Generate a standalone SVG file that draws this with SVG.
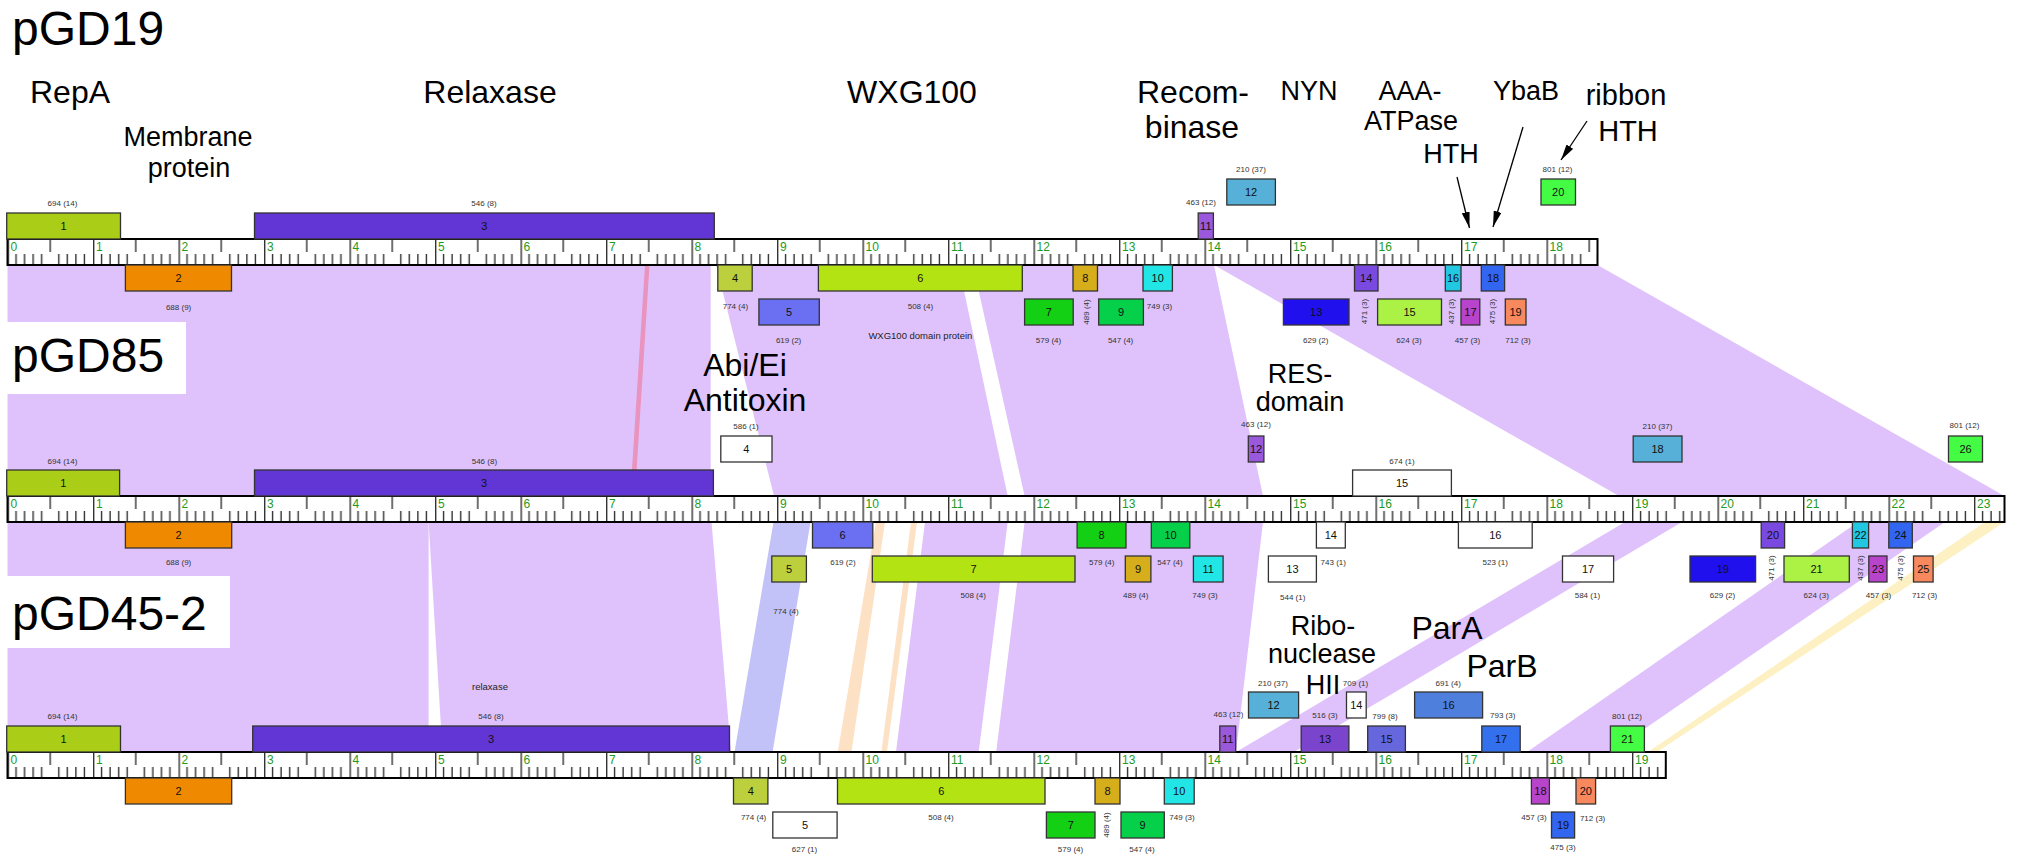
<svg xmlns="http://www.w3.org/2000/svg" width="2021" height="856" viewBox="0 0 2021 856">
<style>
.gb{stroke:#333;stroke-width:1.3}
.gt{font-family:'Liberation Sans',Arial,sans-serif;font-size:11px;text-anchor:middle;fill:#111}
.sl{font-family:'Liberation Sans',Arial,sans-serif;font-size:8px;text-anchor:middle;fill:#333}
.sm{font-family:'Liberation Sans',Arial,sans-serif;font-size:9.5px;text-anchor:middle;fill:#222}
.an{font-family:'Liberation Sans',Arial,sans-serif;text-anchor:middle;fill:#000}
.a32{font-size:32px}.a27{font-size:27px}.a29{font-size:29px}
.rn{font-family:'Liberation Sans',Arial,sans-serif;font-size:12px;fill:#1e9a1e}
.tt{font-family:'Liberation Sans',Arial,sans-serif;font-size:48px;fill:#000}
.lk{fill:#dfc2fc}
.wb{fill:#fff}
.rb{fill:url(#ticks);stroke:#000;stroke-width:2}
.ar{stroke:#000;stroke-width:1.3;fill:none;marker-end:url(#ah)}
</style>
<defs>
<pattern id="ticks" patternUnits="userSpaceOnUse" x="7.5" y="0" width="85.5" height="26">
<rect width="85.5" height="26" fill="#fff"/>
<path d="M0.7 0V26M42.75 0V13M8.55 15V26M17.1 15V26M25.65 15V26M34.2 15V26M51.3 15V26M59.85 15V26M68.4 15V26M76.95 15V26" stroke="#333" stroke-width="1.4" fill="none"/>
</pattern>
<marker id="ah" markerUnits="userSpaceOnUse" markerWidth="16" markerHeight="8" refX="16" refY="4" orient="auto" viewBox="0 0 16 8">
<path d="M0,0L16,4L0,8z" fill="#000"/>
</marker>
</defs>
<rect width="2021" height="856" fill="#fff"/>

<g id="links">
<polygon class="lk" points="7.5,265 710.7,265 710.7,496 7.5,496"/>
<polygon points="645,265 649.5,265 635,496 630.3,496" fill="#e993bf"/>
<polygon class="lk" points="716,265 958.5,265 1007.7,496 774,496"/>
<polygon class="lk" points="972.9,265 1214,265 1263,496 1024.6,496"/>
<polygon class="lk" points="1214,265 1597.5,265 2004.5,496 1619,496"/>
<polygon class="lk" points="7.5,522 428.6,522 428.6,752 7.5,752"/>
<polygon class="lk" points="428.6,522 711.5,522 731,752 442.5,752"/>
<polygon points="773.5,522 810.5,522 772.6,752 734.5,752" fill="#c2c2f9"/>
<polygon points="876,522 885,522 851.5,752 837.8,752" fill="#fde1c4"/>
<polygon points="911,522 917,522 887,752 881.4,752" fill="#fde1c4"/>
<polygon class="lk" points="925,522 1007.7,522 978.7,752 896,752"/>
<polygon class="lk" points="1024.6,522 1263,522 1236,752 996.2,752"/>
<polygon class="lk" points="1625,522 1682,522 1294,752 1236,752"/>
<polygon class="lk" points="1858,522 1945,522 1611,752 1527,752"/>
<polygon points="1985,522 2004.5,522 1657,752 1648,752" fill="#fdf0c3"/>
</g>

<g id="titles">
<text class="tt" x="12" y="45">pGD19</text>
<rect class="wb" x="0" y="322" width="186" height="72"/>
<text class="tt" x="12" y="372">pGD85</text>
<rect class="wb" x="0" y="576" width="230" height="72"/>
<text class="tt" x="12" y="630">pGD45-2</text>
</g>

<g id="annotations">
<text class="an a32" x="70" y="103">RepA</text>
<text class="an a27" x="188" y="146">Membrane</text>
<text class="an a27" x="189" y="177">protein</text>
<text class="an a32" x="490" y="103">Relaxase</text>
<text class="an a32" x="912" y="103">WXG100</text>
<text class="an a32" x="1193" y="103">Recom-</text>
<text class="an a32" x="1192" y="138">binase</text>
<text class="an a27" x="1309" y="100">NYN</text>
<text class="an a27" x="1410" y="100">AAA-</text>
<text class="an a27" x="1411" y="130">ATPase</text>
<text class="an a27" x="1451" y="163">HTH</text>
<text class="an a27" x="1526" y="100">YbaB</text>
<text class="an a29" x="1626" y="105">ribbon</text>
<text class="an a29" x="1628" y="141">HTH</text>
<text class="an a32" x="745" y="376">Abi/Ei</text>
<text class="an a32" x="745" y="411">Antitoxin</text>
<text class="an a27" x="1300" y="383">RES-</text>
<text class="an a27" x="1300" y="411">domain</text>
<text class="an a27" x="1323" y="635">Ribo-</text>
<text class="an a27" x="1322" y="663">nuclease</text>
<text class="an a27" x="1323" y="694">HII</text>
<text class="an a32" x="1447" y="639">ParA</text>
<text class="an a32" x="1502" y="677">ParB</text>
<line class="ar" x1="1457" y1="177" x2="1469.5" y2="228"/>
<line class="ar" x1="1523" y1="127" x2="1493" y2="227"/>
<line class="ar" x1="1587" y1="121" x2="1561" y2="160"/>
</g>

<g id="ruler-pGD19" transform="translate(0,239)">
<rect class="rb" x="7.5" y="0" width="1590" height="26"/>
<text class="rn" x="10.5" y="11.5">0</text><text class="rn" x="96" y="11.5">1</text><text class="rn" x="181.5" y="11.5">2</text><text class="rn" x="267" y="11.5">3</text><text class="rn" x="352.5" y="11.5">4</text><text class="rn" x="438" y="11.5">5</text><text class="rn" x="523.5" y="11.5">6</text><text class="rn" x="609" y="11.5">7</text><text class="rn" x="694.5" y="11.5">8</text><text class="rn" x="780" y="11.5">9</text><text class="rn" x="865.5" y="11.5">10</text><text class="rn" x="951" y="11.5">11</text><text class="rn" x="1036.5" y="11.5">12</text><text class="rn" x="1122" y="11.5">13</text><text class="rn" x="1207.5" y="11.5">14</text><text class="rn" x="1293" y="11.5">15</text><text class="rn" x="1378.5" y="11.5">16</text><text class="rn" x="1464" y="11.5">17</text><text class="rn" x="1549.5" y="11.5">18</text>
</g>
<g id="ruler-pGD85" transform="translate(0,496)">
<rect class="rb" x="7.5" y="0" width="1997" height="26"/>
<text class="rn" x="10.5" y="11.5">0</text><text class="rn" x="96" y="11.5">1</text><text class="rn" x="181.5" y="11.5">2</text><text class="rn" x="267" y="11.5">3</text><text class="rn" x="352.5" y="11.5">4</text><text class="rn" x="438" y="11.5">5</text><text class="rn" x="523.5" y="11.5">6</text><text class="rn" x="609" y="11.5">7</text><text class="rn" x="694.5" y="11.5">8</text><text class="rn" x="780" y="11.5">9</text><text class="rn" x="865.5" y="11.5">10</text><text class="rn" x="951" y="11.5">11</text><text class="rn" x="1036.5" y="11.5">12</text><text class="rn" x="1122" y="11.5">13</text><text class="rn" x="1207.5" y="11.5">14</text><text class="rn" x="1293" y="11.5">15</text><text class="rn" x="1378.5" y="11.5">16</text><text class="rn" x="1464" y="11.5">17</text><text class="rn" x="1549.5" y="11.5">18</text><text class="rn" x="1635" y="11.5">19</text><text class="rn" x="1720.5" y="11.5">20</text><text class="rn" x="1806" y="11.5">21</text><text class="rn" x="1891.5" y="11.5">22</text><text class="rn" x="1977" y="11.5">23</text>
</g>
<g id="ruler-pGD45-2" transform="translate(0,752)">
<rect class="rb" x="7.5" y="0" width="1658.3" height="26"/>
<text class="rn" x="10.5" y="11.5">0</text><text class="rn" x="96" y="11.5">1</text><text class="rn" x="181.5" y="11.5">2</text><text class="rn" x="267" y="11.5">3</text><text class="rn" x="352.5" y="11.5">4</text><text class="rn" x="438" y="11.5">5</text><text class="rn" x="523.5" y="11.5">6</text><text class="rn" x="609" y="11.5">7</text><text class="rn" x="694.5" y="11.5">8</text><text class="rn" x="780" y="11.5">9</text><text class="rn" x="865.5" y="11.5">10</text><text class="rn" x="951" y="11.5">11</text><text class="rn" x="1036.5" y="11.5">12</text><text class="rn" x="1122" y="11.5">13</text><text class="rn" x="1207.5" y="11.5">14</text><text class="rn" x="1293" y="11.5">15</text><text class="rn" x="1378.5" y="11.5">16</text><text class="rn" x="1464" y="11.5">17</text><text class="rn" x="1549.5" y="11.5">18</text><text class="rn" x="1635" y="11.5">19</text>
</g>

<!-- pGD19 genes -->
<g id="pGD19-1"><rect class="gb" x="6.7" y="213" width="113.8" height="26" fill="#aacd17"/><text class="gt" x="63.6" y="230">1</text><text class="sl" x="62.5" y="206">694 (14)</text></g>
<g id="pGD19-3"><rect class="gb" x="254.5" y="213" width="459.8" height="26" fill="#6236d5"/><text class="gt" x="484.4" y="230">3</text><text class="sl" x="484" y="206">546 (8)</text></g>
<g id="pGD19-11"><rect class="gb" x="1198.2" y="213" width="15.2" height="26" fill="#9a58dd"/><text class="gt" x="1205.8" y="230">11</text><text class="sl" x="1201" y="205">463 (12)</text></g>
<g id="pGD19-12"><rect class="gb" x="1226.8" y="179" width="48.6" height="26" fill="#57b0d8"/><text class="gt" x="1251.1" y="196">12</text><text class="sl" x="1251" y="172.3">210 (37)</text></g>
<g id="pGD19-20"><rect class="gb" x="1541" y="179" width="34.5" height="26" fill="#44fc44"/><text class="gt" x="1558.2" y="196">20</text><text class="sl" x="1557.5" y="172">801 (12)</text></g>
<g id="pGD19-2"><rect class="gb" x="125.4" y="265" width="106.1" height="26" fill="#ef8a00"/><text class="gt" x="178.5" y="282">2</text><text class="sl" x="178.6" y="309.7">688 (9)</text></g>
<g id="pGD19-4"><rect class="gb" x="717.8" y="265" width="34.4" height="26" fill="#bccf3c"/><text class="gt" x="735" y="282">4</text><text class="sl" x="735.4" y="308.5">774 (4)</text></g>
<g id="pGD19-6"><rect class="gb" x="818.4" y="265" width="203.9" height="26" fill="#b4e314"/><text class="gt" x="920.3" y="282">6</text><text class="sl" x="920.4" y="309">508 (4)</text><text class="sm" x="920.4" y="339">WXG100 domain protein</text></g>
<g id="pGD19-8"><rect class="gb" x="1073" y="265" width="24.5" height="26" fill="#d6ad1a"/><text class="gt" x="1085.2" y="282">8</text><text class="sl" transform="translate(1089.2,312) rotate(-90)">489 (4)</text></g>
<g id="pGD19-10"><rect class="gb" x="1143" y="265" width="29.4" height="26" fill="#22e6e6"/><text class="gt" x="1157.7" y="282">10</text><text class="sl" x="1159.5" y="308.5">749 (3)</text></g>
<g id="pGD19-14"><rect class="gb" x="1354.5" y="265" width="23.5" height="26" fill="#7a4ae0"/><text class="gt" x="1366.2" y="282">14</text><text class="sl" transform="translate(1367,311.6) rotate(-90)">471 (3)</text></g>
<g id="pGD19-16"><rect class="gb" x="1445.3" y="265" width="15.7" height="26" fill="#22c8e2"/><text class="gt" x="1453.1" y="282">16</text><text class="sl" transform="translate(1454.3,311.6) rotate(-90)">437 (3)</text></g>
<g id="pGD19-18"><rect class="gb" x="1481.3" y="265" width="23.3" height="26" fill="#3266f0"/><text class="gt" x="1493" y="282">18</text><text class="sl" transform="translate(1495,311.6) rotate(-90)">475 (3)</text></g>
<g id="pGD19-5"><rect class="gb" x="758.9" y="299" width="60.4" height="26" fill="#6b6ff2"/><text class="gt" x="789.1" y="316">5</text><text class="sl" x="788.6" y="343">619 (2)</text></g>
<g id="pGD19-7"><rect class="gb" x="1024.6" y="299" width="48.6" height="26" fill="#14d014"/><text class="gt" x="1048.9" y="316">7</text><text class="sl" x="1048.5" y="343">579 (4)</text></g>
<g id="pGD19-9"><rect class="gb" x="1098.7" y="299" width="44.7" height="26" fill="#06d04a"/><text class="gt" x="1121" y="316">9</text><text class="sl" x="1120.6" y="343">547 (4)</text></g>
<g id="pGD19-13"><rect class="gb" x="1283.4" y="299" width="65.6" height="26" fill="#2010ee"/><text class="gt" x="1316.2" y="316">13</text><text class="sl" x="1315.7" y="343">629 (2)</text></g>
<g id="pGD19-15"><rect class="gb" x="1377.6" y="299" width="63.9" height="26" fill="#acf244"/><text class="gt" x="1409.5" y="316">15</text><text class="sl" x="1409" y="343">624 (3)</text></g>
<g id="pGD19-17"><rect class="gb" x="1461" y="299" width="18.8" height="26" fill="#b844cc"/><text class="gt" x="1470.4" y="316">17</text><text class="sl" x="1467.5" y="343">457 (3)</text></g>
<g id="pGD19-19"><rect class="gb" x="1505.3" y="299" width="20.7" height="26" fill="#f8885e"/><text class="gt" x="1515.6" y="316">19</text><text class="sl" x="1518" y="343">712 (3)</text></g>

<!-- pGD85 genes -->
<g id="pGD85-4"><rect class="gb" x="720.8" y="436" width="51.2" height="26" fill="#fff"/><text class="gt" x="746.4" y="453">4</text><text class="sl" x="746" y="429">586 (1)</text></g>
<g id="pGD85-12"><rect class="gb" x="1248.3" y="436" width="15.6" height="26" fill="#9a58dd"/><text class="gt" x="1256.1" y="453">12</text><text class="sl" x="1256" y="427">463 (12)</text></g>
<g id="pGD85-18"><rect class="gb" x="1633.2" y="436" width="48.8" height="26" fill="#57b0d8"/><text class="gt" x="1657.6" y="453">18</text><text class="sl" x="1657.5" y="429">210 (37)</text></g>
<g id="pGD85-26"><rect class="gb" x="1948.5" y="436" width="34" height="26" fill="#44fc44"/><text class="gt" x="1965.5" y="453">26</text><text class="sl" x="1964.5" y="427.5">801 (12)</text></g>
<g id="pGD85-1"><rect class="gb" x="6.7" y="470" width="112.9" height="26" fill="#aacd17"/><text class="gt" x="63.2" y="487">1</text><text class="sl" x="62.5" y="463.7">694 (14)</text></g>
<g id="pGD85-3"><rect class="gb" x="254.5" y="470" width="458.9" height="26" fill="#6236d5"/><text class="gt" x="484" y="487">3</text><text class="sl" x="484.4" y="463.7">546 (8)</text></g>
<g id="pGD85-15"><rect class="gb" x="1352.6" y="470" width="98.8" height="26" fill="#fff"/><text class="gt" x="1402" y="487">15</text><text class="sl" x="1402" y="463.5">674 (1)</text></g>
<g id="pGD85-2"><rect class="gb" x="125.4" y="522" width="106.3" height="26" fill="#ef8a00"/><text class="gt" x="178.5" y="539">2</text><text class="sl" x="178.6" y="565.3">688 (9)</text></g>
<g id="pGD85-6"><rect class="gb" x="812.5" y="522" width="60.3" height="26" fill="#6b6ff2"/><text class="gt" x="842.6" y="539">6</text><text class="sl" x="842.9" y="565.3">619 (2)</text></g>
<g id="pGD85-8"><rect class="gb" x="1077.1" y="522" width="48.9" height="26" fill="#14d014"/><text class="gt" x="1101.5" y="539">8</text><text class="sl" x="1101.8" y="565.3">579 (4)</text></g>
<g id="pGD85-10"><rect class="gb" x="1151.3" y="522" width="38.5" height="26" fill="#06d04a"/><text class="gt" x="1170.5" y="539">10</text><text class="sl" x="1170" y="565.3">547 (4)</text></g>
<g id="pGD85-14"><rect class="gb" x="1316.4" y="522" width="28.9" height="26" fill="#fff"/><text class="gt" x="1330.8" y="539">14</text><text class="sl" x="1333.3" y="565.3">743 (1)</text></g>
<g id="pGD85-16"><rect class="gb" x="1458.4" y="522" width="73.8" height="26" fill="#fff"/><text class="gt" x="1495.3" y="539">16</text><text class="sl" x="1495.2" y="565.3">523 (1)</text></g>
<g id="pGD85-20"><rect class="gb" x="1761.2" y="522" width="23.4" height="26" fill="#7a4ae0"/><text class="gt" x="1772.9" y="539">20</text><text class="sl" transform="translate(1773.6,568) rotate(-90)">471 (3)</text></g>
<g id="pGD85-22"><rect class="gb" x="1852.4" y="522" width="16.2" height="26" fill="#22c8e2"/><text class="gt" x="1860.5" y="539">22</text><text class="sl" transform="translate(1862.8,568) rotate(-90)">437 (3)</text></g>
<g id="pGD85-24"><rect class="gb" x="1888.8" y="522" width="23.5" height="26" fill="#3266f0"/><text class="gt" x="1900.5" y="539">24</text><text class="sl" transform="translate(1903,568) rotate(-90)">475 (3)</text></g>
<g id="pGD85-5"><rect class="gb" x="771.8" y="556" width="34.6" height="26" fill="#bccf3c"/><text class="gt" x="789.1" y="573">5</text><text class="sl" x="786" y="614.2">774 (4)</text></g>
<g id="pGD85-7"><rect class="gb" x="872.3" y="556" width="202.7" height="26" fill="#b4e314"/><text class="gt" x="973.6" y="573">7</text><text class="sl" x="973.2" y="598.4">508 (4)</text></g>
<g id="pGD85-9"><rect class="gb" x="1125.3" y="556" width="25.6" height="26" fill="#d6ad1a"/><text class="gt" x="1138.1" y="573">9</text><text class="sl" x="1135.8" y="598.4">489 (4)</text></g>
<g id="pGD85-11"><rect class="gb" x="1193.4" y="556" width="29.7" height="26" fill="#22e6e6"/><text class="gt" x="1208.2" y="573">11</text><text class="sl" x="1205" y="598.4">749 (3)</text></g>
<g id="pGD85-13"><rect class="gb" x="1268.4" y="556" width="48" height="26" fill="#fff"/><text class="gt" x="1292.4" y="573">13</text><text class="sl" x="1292.7" y="600">544 (1)</text></g>
<g id="pGD85-17"><rect class="gb" x="1562.5" y="556" width="51.1" height="26" fill="#fff"/><text class="gt" x="1588" y="573">17</text><text class="sl" x="1587.4" y="598.4">584 (1)</text></g>
<g id="pGD85-19"><rect class="gb" x="1690" y="556" width="65.6" height="26" fill="#2010ee"/><text class="gt" x="1722.8" y="573">19</text><text class="sl" x="1722.5" y="598.4">629 (2)</text></g>
<g id="pGD85-21"><rect class="gb" x="1784" y="556" width="65.3" height="26" fill="#acf244"/><text class="gt" x="1816.6" y="573">21</text><text class="sl" x="1816.2" y="598.4">624 (3)</text></g>
<g id="pGD85-23"><rect class="gb" x="1868.8" y="556" width="18.2" height="26" fill="#b844cc"/><text class="gt" x="1877.9" y="573">23</text><text class="sl" x="1878.5" y="598.4">457 (3)</text></g>
<g id="pGD85-25"><rect class="gb" x="1913.5" y="556" width="19.6" height="26" fill="#f8885e"/><text class="gt" x="1923.3" y="573">25</text><text class="sl" x="1924.6" y="598.4">712 (3)</text></g>

<!-- pGD45-2 genes -->
<g id="pGD45-2-12"><rect class="gb" x="1248.5" y="692" width="50.1" height="26" fill="#57b0d8"/><text class="gt" x="1273.5" y="709">12</text><text class="sl" x="1273" y="685.5">210 (37)</text></g>
<g id="pGD45-2-14"><rect class="gb" x="1346.5" y="692" width="19.7" height="26" fill="#fff"/><text class="gt" x="1356.3" y="709">14</text><text class="sl" x="1355.5" y="686">709 (1)</text></g>
<g id="pGD45-2-16"><rect class="gb" x="1414.6" y="692" width="68" height="26" fill="#4f7fdd"/><text class="gt" x="1448.6" y="709">16</text><text class="sl" x="1448.2" y="685.5">691 (4)</text></g>
<g id="pGD45-2-1"><rect class="gb" x="6.7" y="726" width="113.8" height="26" fill="#aacd17"/><text class="gt" x="63.6" y="743">1</text><text class="sl" x="62.5" y="719">694 (14)</text></g>
<g id="pGD45-2-3"><rect class="gb" x="252.7" y="726" width="476.8" height="26" fill="#6236d5"/><text class="gt" x="491.1" y="743">3</text><text class="sl" x="491" y="719">546 (8)</text><text class="sm" x="490" y="690">relaxase</text></g>
<g id="pGD45-2-11"><rect class="gb" x="1219.8" y="726" width="15.9" height="26" fill="#9a58dd"/><text class="gt" x="1227.7" y="743">11</text><text class="sl" x="1228.4" y="717.3">463 (12)</text></g>
<g id="pGD45-2-13"><rect class="gb" x="1301.2" y="726" width="47.7" height="26" fill="#7a44cc"/><text class="gt" x="1325" y="743">13</text><text class="sl" x="1325" y="718">516 (3)</text></g>
<g id="pGD45-2-15"><rect class="gb" x="1367.7" y="726" width="37.7" height="26" fill="#6666dd"/><text class="gt" x="1386.5" y="743">15</text><text class="sl" x="1385" y="718.5">799 (8)</text></g>
<g id="pGD45-2-17"><rect class="gb" x="1481.8" y="726" width="38.4" height="26" fill="#3370ee"/><text class="gt" x="1501" y="743">17</text><text class="sl" x="1502.7" y="718">793 (3)</text></g>
<g id="pGD45-2-21"><rect class="gb" x="1610.4" y="726" width="34" height="26" fill="#44fc44"/><text class="gt" x="1627.4" y="743">21</text><text class="sl" x="1627" y="718.5">801 (12)</text></g>
<g id="pGD45-2-2"><rect class="gb" x="125.4" y="778" width="106.3" height="26" fill="#ef8a00"/><text class="gt" x="178.5" y="795">2</text></g>
<g id="pGD45-2-4"><rect class="gb" x="733.5" y="778" width="34.4" height="26" fill="#bccf3c"/><text class="gt" x="750.7" y="795">4</text><text class="sl" x="753.6" y="820.3">774 (4)</text></g>
<g id="pGD45-2-6"><rect class="gb" x="837.5" y="778" width="207.5" height="26" fill="#b4e314"/><text class="gt" x="941.2" y="795">6</text><text class="sl" x="941" y="820">508 (4)</text></g>
<g id="pGD45-2-8"><rect class="gb" x="1095" y="778" width="25" height="26" fill="#d6ad1a"/><text class="gt" x="1107.5" y="795">8</text><text class="sl" transform="translate(1109,825) rotate(-90)">489 (4)</text></g>
<g id="pGD45-2-10"><rect class="gb" x="1164.3" y="778" width="29.9" height="26" fill="#22e6e6"/><text class="gt" x="1179.2" y="795">10</text><text class="sl" x="1182" y="820">749 (3)</text></g>
<g id="pGD45-2-18"><rect class="gb" x="1531.4" y="778" width="18" height="26" fill="#b844cc"/><text class="gt" x="1540.4" y="795">18</text><text class="sl" x="1534" y="820.3">457 (3)</text></g>
<g id="pGD45-2-20"><rect class="gb" x="1576" y="778" width="19.6" height="26" fill="#f8885e"/><text class="gt" x="1585.8" y="795">20</text><text class="sl" x="1592.6" y="821">712 (3)</text></g>
<g id="pGD45-2-5"><rect class="gb" x="772.8" y="812" width="64.3" height="26" fill="#fff"/><text class="gt" x="805" y="829">5</text><text class="sl" x="804.5" y="852.3">627 (1)</text></g>
<g id="pGD45-2-7"><rect class="gb" x="1046.4" y="812" width="48.6" height="26" fill="#14d014"/><text class="gt" x="1070.7" y="829">7</text><text class="sl" x="1070.5" y="852">579 (4)</text></g>
<g id="pGD45-2-9"><rect class="gb" x="1121" y="812" width="43.3" height="26" fill="#06d04a"/><text class="gt" x="1142.6" y="829">9</text><text class="sl" x="1142" y="852">547 (4)</text></g>
<g id="pGD45-2-19"><rect class="gb" x="1551.5" y="812" width="23.1" height="26" fill="#3266f0"/><text class="gt" x="1563" y="829">19</text><text class="sl" x="1563" y="850.3">475 (3)</text></g>
</svg>
